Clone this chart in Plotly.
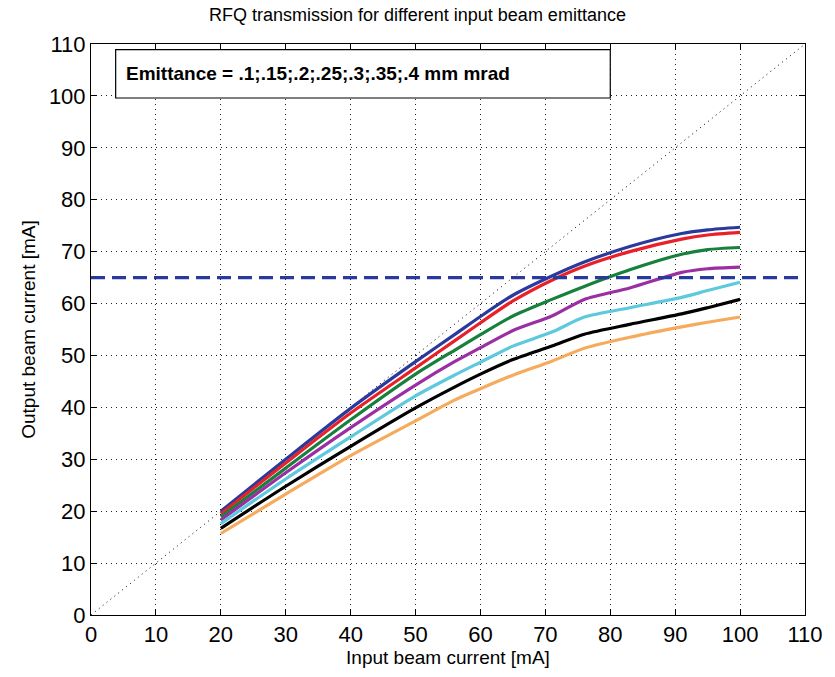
import plotly.graph_objects as go

# ---- data ----
input_current = [20, 30, 40, 50, 56, 60, 65, 71, 76, 83, 91, 95, 100]
emit_010 = [20.0, 30.0, 39.8, 48.8, 54.0, 57.5, 61.6, 65.3, 68.0, 71.0, 73.5, 74.2, 74.7]
emit_015 = [19.5, 29.3, 38.9, 47.6, 52.8, 56.3, 60.5, 64.5, 67.2, 70.0, 72.4, 73.2, 73.7]
emit_020 = [18.9, 28.3, 37.6, 46.4, 51.0, 54.0, 57.6, 60.8, 63.3, 66.5, 69.5, 70.4, 70.8]
emit_025 = [18.3, 27.4, 36.1, 44.3, 48.8, 51.5, 54.8, 57.6, 60.8, 63.0, 66.0, 66.7, 67.0]
emit_030 = [17.6, 26.2, 34.3, 42.2, 46.2, 48.7, 51.8, 54.5, 57.4, 59.2, 61.2, 62.5, 64.1]
emit_035 = [16.7, 24.8, 32.5, 39.9, 43.9, 46.4, 49.2, 51.8, 54.1, 56.0, 58.0, 59.2, 60.8]
emit_040 = [15.7, 23.3, 30.7, 37.4, 41.4, 43.6, 46.2, 48.9, 51.4, 53.5, 55.5, 56.4, 57.4]
series = [emit_010, emit_015, emit_020, emit_025, emit_030, emit_035, emit_040]
series_names = [".1", ".15", ".2", ".25", ".3", ".35", ".4"]
colors = ["#2a3a9c", "#e8202a", "#17803c", "#9a2fa3", "#5cc9dc", "#000000", "#f6aa5c"]

target_level = 65
diag_x = [0, 110]
diag_y = [0, 110]
tick_vals = [0, 10, 20, 30, 40, 50, 60, 70, 80, 90, 100, 110]

FONT = "Liberation Sans Narrow, Arial Narrow, Liberation Sans, Arial, sans-serif"

fig = go.Figure()

fig.add_trace(go.Scatter(x=diag_x, y=diag_y, mode="lines",
                         line=dict(color="black", width=1, dash="1px,4px"),
                         showlegend=False, hoverinfo="skip"))

for ys, name, c in zip(series, series_names, colors):
    fig.add_trace(go.Scatter(x=input_current, y=ys, mode="lines", name=name,
                             line=dict(color=c, width=3.2, shape="spline", smoothing=0.7),
                             showlegend=False))

fig.add_trace(go.Scatter(x=[diag_x[0], diag_x[1]], y=[target_level, target_level], mode="lines",
                         line=dict(color="#2a3a9c", width=3.2, dash="14px,7px"),
                         cliponaxis=False, showlegend=False))

axis_common = dict(
    range=[0, 110], tickvals=tick_vals, ticks="inside", ticklen=6, tickwidth=1,
    tickcolor="black", showline=True, linecolor="black", linewidth=1, mirror="allticks",
    showgrid=True, gridcolor="#222222", gridwidth=1, griddash="1px,4px", zeroline=False,
    tickfont=dict(family=FONT, size=22, color="black"),
)

fig.update_layout(
    width=835, height=677,
    margin=dict(l=91, r=18, t=44, b=60),
    paper_bgcolor="white", plot_bgcolor="white",
    title=dict(text="RFQ transmission for different input beam emittance",
               x=0.5, xanchor="center", y=0.988, yanchor="top",
               font=dict(family=FONT, size=18, color="black")),
    xaxis=dict(title=dict(text="Input beam current [mA]", standoff=4,
                          font=dict(family=FONT, size=19, color="black")), **axis_common),
    yaxis=dict(title=dict(text="Output beam current [mA]", standoff=8,
                          font=dict(family=FONT, size=19, color="black")), **axis_common),
)

fig.add_shape(type="rect", xref="x", yref="y", x0=3.8, x1=80, y0=99.6, y1=108.9,
              line=dict(color="black", width=1.2), fillcolor="white", layer="above")
fig.add_annotation(xref="x", yref="y", x=5.1, y=104.3, xanchor="left", yanchor="middle",
                   text="<b>Emittance = .1;.15;.2;.25;.3;.35;.4 mm mrad</b>", showarrow=False,
                   font=dict(family="Liberation Sans, Arial, sans-serif", size=19, color="black"))

fig.write_html("out.html")
